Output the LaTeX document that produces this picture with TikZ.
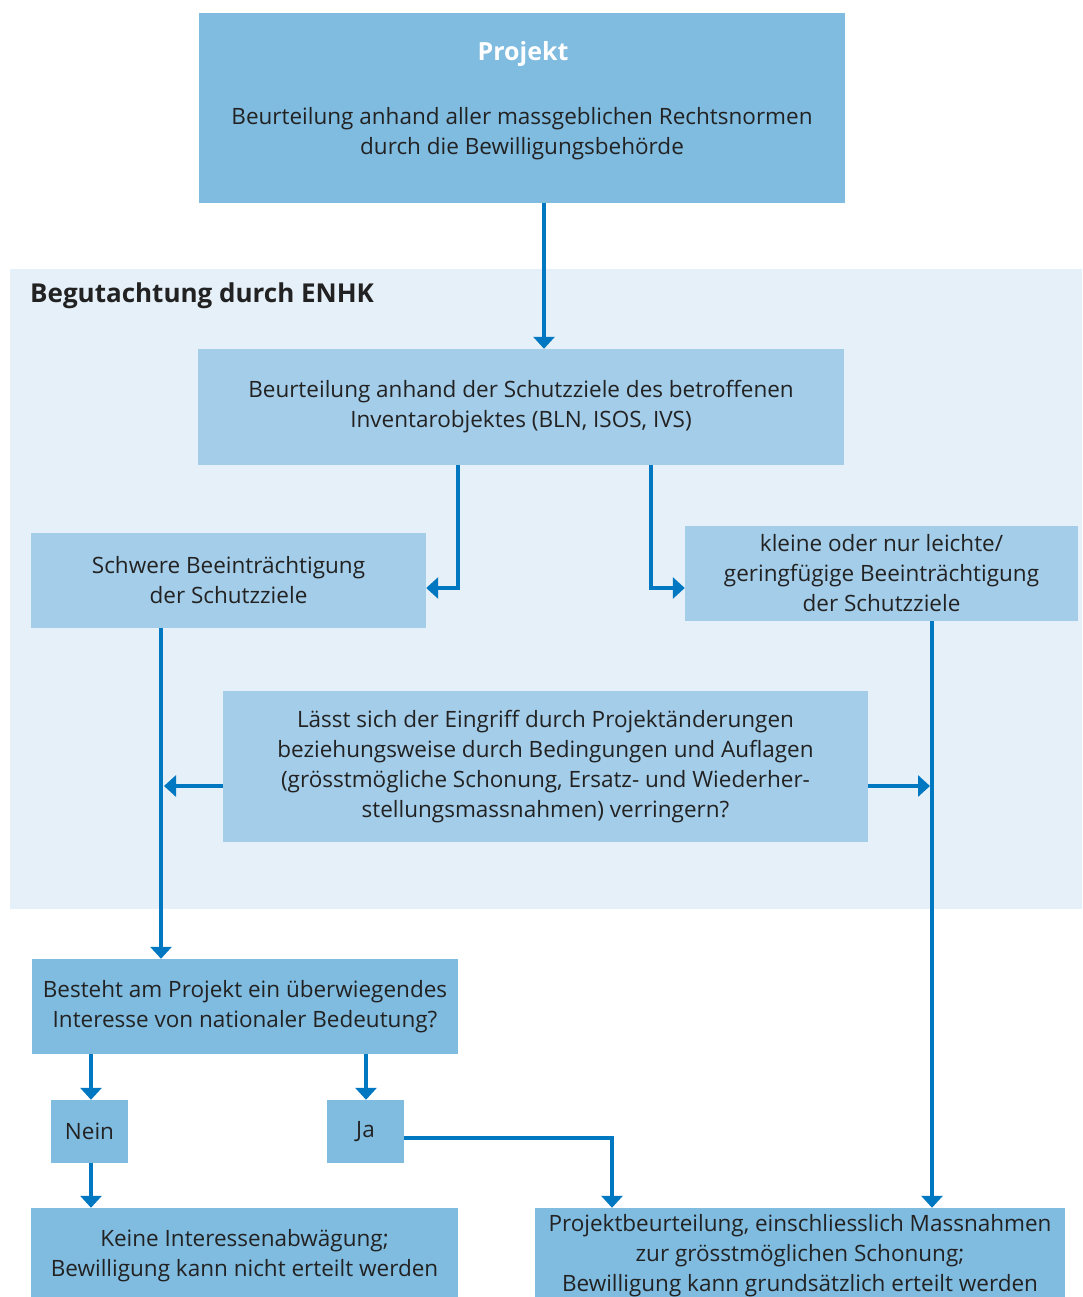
\documentclass[tikz,border=0pt]{standalone}
\usepackage{fontspec}
\setmainfont{Open Sans}
\usetikzlibrary{arrows.meta}
\definecolor{boxdark}{HTML}{80BBE0}
\definecolor{boxlight}{HTML}{A4CDE9}
\definecolor{panelbg}{HTML}{E6F0F9}
\definecolor{arrowblue}{HTML}{0077C1}
\definecolor{textgray}{HTML}{222222}
\tikzset{
  font={\fontsize{22.5pt}{30pt}\selectfont},
  every node/.style={text=textgray, align=center, inner sep=0pt},
  darkbox/.style={fill=boxdark},
  lightbox/.style={fill=boxlight},
  arr/.style={draw=arrowblue, line width=4.5pt, -{Triangle[width=21pt,length=12pt]}}}
\begin{document}
\begin{tikzpicture}[x=1pt,y=-1pt]
\useasboundingbox (0,0) rectangle (1082,1297);
\clip (0,0) rectangle (1082,1297);
\fill [panelbg] (10,269) rectangle (1082,909);
\node [anchor=west, font={\fontsize{26pt}{30pt}\selectfont\bfseries}] (enhk) at (30,296) {Begutachtung durch ENHK};
\node [darkbox, minimum width=646, minimum height=190] (proj) at (522,108) {};
\node [text=white, font={\fontsize{25pt}{30pt}\selectfont\bfseries}] (projtitle) at (523,54) {Projekt};
\node (projtext) at (522,134) {Beurteilung anhand aller massgeblichen Rechtsnormen\\durch die Bewilligungsbehörde};
\node [lightbox, minimum width=646, minimum height=116] (schutz) at (521,407) {Beurteilung anhand der Schutzziele des betroffenen\\Inventarobjektes (BLN, ISOS, IVS)};
\node [lightbox, minimum width=395, minimum height=95] (schwer) at (228.5,580.5) {Schwere Beeinträchtigung\\der Schutzziele};
\node [lightbox, minimum width=393, minimum height=95] (klein) at (881.5,573.5) {kleine oder nur leichte/\\geringfügige Beeinträchtigung\\der Schutzziele};
\node [lightbox, minimum width=645, minimum height=151] (eingriff) at (545.5,766.5) {Lässt sich der Eingriff durch Projektänderungen\\beziehungsweise durch Bedingungen und Auflagen\\(grösstmögliche Schonung, Ersatz- und Wiederher-\\stellungsmassnahmen) verringern?};
\node [darkbox, minimum width=426, minimum height=95] (frage) at (245,1006.5) {Besteht am Projekt ein überwiegendes\\Interesse von nationaler Bedeutung?};
\node [darkbox, minimum width=77, minimum height=63] (nein) at (89.5,1131.5) {Nein};
\node [darkbox, minimum width=77, minimum height=63] (ja) at (365.5,1131.5) {Ja};
\node [darkbox, minimum width=427, minimum height=96] (keine) at (244.5,1256) {Keine Interessenabwägung;\\Bewilligung kann nicht erteilt werden};
\node [darkbox, minimum width=530, minimum height=96] (erteilt) at (800,1256) {Projektbeurteilung, einschliesslich Massnahmen\\zur grösstmöglichen Schonung;\\Bewilligung kann grundsätzlich erteilt werden};
\coordinate (xa) at (544,0);
\coordinate (xb) at (458,0);
\coordinate (xc) at (651,0);
\coordinate (xl) at (161,0);
\coordinate (xlt) at (164,0);
\coordinate (xr) at (932,0);
\coordinate (xrt) at (930,0);
\coordinate (xn) at (91,0);
\coordinate (xj) at (366,0);
\coordinate (xk) at (612,0);
\coordinate (ya) at (0,588);
\coordinate (yv) at (0,786);
\coordinate (yj) at (0,1138);
\draw [arr] (proj.south -| xa) -- (schutz.north -| xa);
\draw [arr] (schutz.south -| xb) |- (schwer.east |- ya);
\draw [arr] (schutz.south -| xc) |- (klein.west |- ya);
\draw [arr] (schwer.south -| xl) -- (frage.north -| xl);
\draw [arr] (eingriff.west |- yv) -- (xlt |- yv);
\draw [arr] (eingriff.east |- yv) -- (xrt |- yv);
\draw [arr] (klein.south -| xr) -- (erteilt.north -| xr);
\draw [arr] (frage.south -| xn) -- (nein.north -| xn);
\draw [arr] (frage.south -| xj) -- (ja.north -| xj);
\draw [arr] (nein.south -| xn) -- (keine.north -| xn);
\draw [arr] (ja.east |- yj) -| (erteilt.north -| xk);
\end{tikzpicture}
\end{document}
